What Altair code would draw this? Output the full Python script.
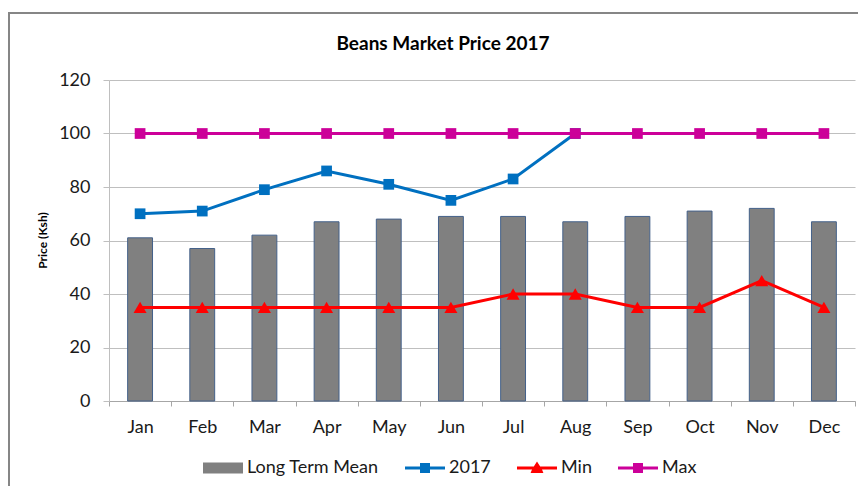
import altair as alt
import pandas as pd

months = ["Jan", "Feb", "Mar", "Apr", "May", "Jun", "Jul", "Aug", "Sep", "Oct", "Nov", "Dec"]
long_term_mean = [61, 57, 62, 67, 68, 69, 69, 67, 69, 71, 72, 67]
price_2017 = [70, 71, 79, 86, 81, 75, 83, 100, None, None, None, None]
min_price = [35, 35, 35, 35, 35, 35, 40, 40, 35, 35, 45, 35]
max_price = [100, 100, 100, 100, 100, 100, 100, 100, 100, 100, 100, 100]
series_names = ["Long Term Mean", "2017", "Min", "Max"]
series_colors = ["#808080", "#0070C0", "#FF0000", "#CC0099"]
title_text = "Beans Market Price 2017"

df = pd.DataFrame({
    "month": months,
    "mean": long_term_mean,
    "p2017": price_2017,
    "minp": min_price,
    "maxp": max_price,
})

FONT = "Lato"
# legend symbol paths (unit coordinates)
sym_rect = "M-1,-0.28H1V0.28H-1Z"
sym_square = "M-1,-0.075H-0.25V-0.25H0.25V-0.075H1V0.075H0.25V0.25H-0.25V0.075H-1Z"
sym_tri = "M-1,-0.075H-0.16L0,-0.33L0.16,-0.075H1V0.075H0.25L0.32,0.25H-0.32L-0.25,0.075H-1Z"
series_shapes = [sym_rect, sym_square, sym_tri, sym_square]

xenc = alt.X(
    "month:N", sort=months,
    scale=alt.Scale(paddingInner=0, paddingOuter=0),
    axis=alt.Axis(title=None, labelAngle=0, tickBand="extent", grid=False,
                  tickSize=5, labelPadding=12, domainColor="#A6A6A6",
                  tickColor="#A6A6A6", labelFont=FONT, labelFontSize=18,
                  labelColor="#1a1a1a"),
)
yscale = alt.Scale(domain=[0, 120])
yaxis = alt.Axis(values=[0, 20, 40, 60, 80, 100, 120], title="Price (Ksh)",
                 grid=True, gridColor="#BFBFBF", domainColor="#BFBFBF",
                 tickColor="#BFBFBF", tickSize=6, labelPadding=13,
                 labelFont=FONT, labelFontSize=18, labelColor="#1a1a1a",
                 titleFont=FONT, titleFontSize=12, titleFontWeight="bold",
                 titleColor="#000000", titleX=-67, titleY=160,
                 titleAngle=270, titleAlign="center", titleBaseline="middle")

base = alt.Chart(df)

bars = base.mark_bar(color="#808080", stroke="#44618A", strokeWidth=1,
                     width=alt.RelativeBandSize(0.4)).encode(
    x=xenc,
    y=alt.Y("mean:Q", scale=yscale, axis=yaxis),
)


def line_layer(field, color, shape, size):
    src = base.transform_filter(f"isValid(datum.{field})")
    ln = src.mark_line(color=color, strokeWidth=3).encode(
        x=xenc, y=alt.Y(f"{field}:Q", scale=yscale, axis=yaxis))
    pt = src.mark_point(color=color, filled=True, opacity=1, shape=shape,
                        size=size).encode(
        x=xenc, y=alt.Y(f"{field}:Q", scale=yscale, axis=yaxis))
    return ln + pt


l2017 = line_layer("p2017", "#0070C0", "square", 115)
lmin = line_layer("minp", "#FF0000", "triangle-up", 170)
lmax = line_layer("maxp", "#CC0099", "square", 115)

leg_props = dict(
    title=None, orient="none", direction="horizontal",
    legendX=94, legendY=368, symbolSize=1600, labelOffset=4,
    columnPadding=26, labelFont=FONT, labelFontSize=18, labelColor="#1a1a1a",
    symbolStrokeWidth=0, symbolOpacity=1,
)
legend_layer = alt.Chart(alt.Data(values=[{"s": n} for n in series_names])).mark_point(
    filled=True, opacity=0, size=1600).encode(
    color=alt.Color("s:N", scale=alt.Scale(domain=series_names, range=series_colors),
                    legend=alt.Legend(**leg_props)),
    shape=alt.Shape("s:N", scale=alt.Scale(domain=series_names, range=series_shapes),
                    legend=alt.Legend(**leg_props)),
)

# outer chart frame: left and top edges only visible in the reference
frame_left = alt.Chart(alt.Data(values=[{"a": 1}])).mark_rule(
    stroke="#868686", strokeWidth=2).encode(
    x=alt.value(-100), y=alt.value(-68), y2=alt.value(500))
frame_top = alt.Chart(alt.Data(values=[{"a": 1}])).mark_rule(
    stroke="#868686", strokeWidth=2).encode(
    x=alt.value(-101), x2=alt.value(800), y=alt.value(-67))

title = alt.Chart(alt.Data(values=[{"t": title_text}])).mark_text(
    font=FONT, fontSize=19, fontWeight="bold", color="#000000",
    align="center", baseline="middle").encode(
    text="t:N", x=alt.value(334), y=alt.value(-36))

chart = alt.layer(frame_left, frame_top, title, bars, l2017, lmin, lmax,
                  legend_layer).properties(
    width=746, height=321,
    autosize=alt.AutoSizeParams(type="none"),
    padding={"left": 101, "top": 72, "right": 3, "bottom": 85},
).configure(font=FONT).configure_view(stroke="transparent", strokeWidth=0)

chart.save("out.html", embed_options={"renderer": "svg", "actions": False})
